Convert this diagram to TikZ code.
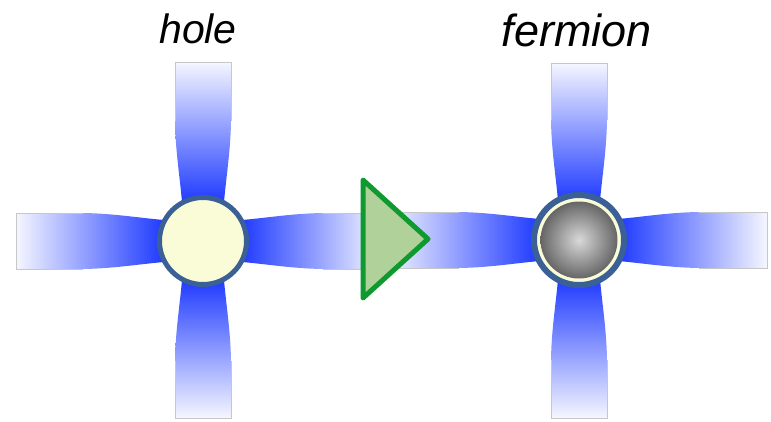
\documentclass[tikz,border=0pt]{standalone}
\usepackage{fontspec}
\setmainfont{Liberation Sans}
\definecolor{petalblue}{HTML}{0A28FF}
\definecolor{ringblue}{HTML}{3A6096}
\definecolor{cream}{HTML}{FAFCD8}
\definecolor{arrgreen}{HTML}{0F9A2F}
\definecolor{arrfill}{HTML}{B1D19B}
\tikzset{
  petaledge/.style={draw=black!22, line width=0.7pt},
  holenode/.style={circle, draw=ringblue, line width=5pt, fill=cream, minimum size=87pt, inner sep=0pt},
  fermnode/.style={circle, draw=ringblue, line width=6pt, fill=cream, minimum size=90pt, inner sep=0pt},
  lbl/.style={anchor=base, inner sep=0pt},
  arrowtri/.style={draw=arrgreen, fill=arrfill, line width=5pt, line join=round},
}
% horizontal petal: cx cy dir len shading
\newcommand\hpetal[5]{%
  \shade[#5] ({#1+#3*25},{#2-20}) .. controls ({#1+#3*55},{#2-21.5}) and ({#1+#3*85},{#2-27.5}) .. ({#1+#3*120},{#2-28}) -- ({#1+#3*#4},{#2-28}) -- ({#1+#3*#4},{#2+28}) -- ({#1+#3*120},{#2+28}) .. controls ({#1+#3*85},{#2+27.5}) and ({#1+#3*55},{#2+21.5}) .. ({#1+#3*25},{#2+20}) -- cycle;
  \draw[petaledge] ({#1+#3*120},{#2-28}) -- ({#1+#3*#4},{#2-28}) -- ({#1+#3*#4},{#2+28}) -- ({#1+#3*120},{#2+28});}
% vertical petal: cx cy dir len shading
\newcommand\vpetal[5]{%
  \shade[#5] ({#1-20},{#2+#3*25}) .. controls ({#1-21.5},{#2+#3*55}) and ({#1-27.5},{#2+#3*85}) .. ({#1-28},{#2+#3*120}) -- ({#1-28},{#2+#3*#4}) -- ({#1+28},{#2+#3*#4}) -- ({#1+28},{#2+#3*120}) .. controls ({#1+27.5},{#2+#3*85}) and ({#1+21.5},{#2+#3*55}) .. ({#1+20},{#2+#3*25}) -- cycle;
  \draw[petaledge] ({#1-28},{#2+#3*120}) -- ({#1-28},{#2+#3*#4}) -- ({#1+28},{#2+#3*#4}) -- ({#1+28},{#2+#3*120});}
\begin{document}
\begin{tikzpicture}[x=1pt, y=-1pt]
\useasboundingbox (0,0) rectangle (771,421);
% petals of hole (center 203,241)
\hpetal{203}{241}{-1}{187}{left color=petalblue!4, right color=petalblue}
\hpetal{203}{241}{1}{177}{left color=petalblue, right color=petalblue!4}
\vpetal{203}{241}{-1}{179}{top color=petalblue!4, bottom color=petalblue}
\vpetal{203}{241}{1}{177}{top color=petalblue, bottom color=petalblue!4}
% petals of fermion (center 579,240)
\hpetal{579}{240}{-1}{194}{left color=petalblue!4, right color=petalblue}
\hpetal{579}{240}{1}{188}{left color=petalblue, right color=petalblue!4}
\vpetal{579}{240}{-1}{177}{top color=petalblue!4, bottom color=petalblue}
\vpetal{579}{240}{1}{178}{top color=petalblue, bottom color=petalblue!4}
% nodes
\node[holenode] (hole) at (203,241) {};
\node[fermnode] (fermion) at (579,240) {};
\shade[inner color=black!15, outer color=black!60] (fermion.center) circle (38.5);
% arrow triangle
\coordinate (ta) at (363,180);
\coordinate (tb) at (363,298);
\coordinate (tc) at (428,239);
\draw[arrowtri] (ta) -- (tc) -- (tb) -- cycle;
% labels
\node[lbl, font=\fontsize{41}{49}\selectfont\itshape] (holelbl) at (198,43) {hole};
\node[lbl, font=\fontsize{45}{54}\selectfont\itshape] (fermlbl) at (577,46) {fermion};
\end{tikzpicture}
\end{document}
